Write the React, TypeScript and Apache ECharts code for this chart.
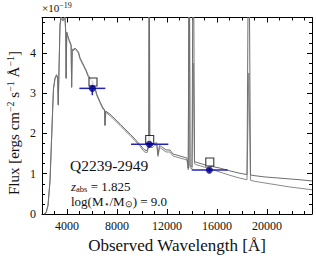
import React, { useEffect, useRef } from "react";
import * as echarts from "echarts";

const FONT = "Liberation Serif";

const wave = [
  2160, 2320, 2480, 2640, 2780, 2880, 2920, 3040, 3160, 3250, 3300, 3360, 3440, 3520, 3680, 3840,
  3900, 3930, 3980, 4120, 4240, 4330, 4370, 4420, 4480, 4640, 4800, 4920, 5040, 5200, 5360, 5520,
  5680, 5840, 6080, 6240, 6400, 6640, 6880, 7000, 7040, 7100, 7200, 7440, 7840, 8240, 8640, 9040,
  9440, 9840, 10160, 10400, 10540, 10580, 10620, 10800, 11000, 11176, 11280, 11400, 11576, 11920,
  12240, 12480, 13040, 13600, 13700, 13780, 13840, 14000, 14100, 14200, 14400, 15040, 15440, 16240,
  17040, 17840, 18400, 18540, 18680, 19040, 19840, 20240, 20640, 21440, 21840, 22640, 23600,
];
const fluxUpper = [
  0, 0.03, 0.22, 0.84, 2.0, 2.83, 3.13, 3.38, 3.46, 3.4, 2.72, 3.6, 4.7, 4.9, 4.82, 4.9,
  4.5, 3.38, 4.52, 4.37, 4.27, 4.2, 3.16, 4.1, 4.08, 4.12, 4.07, 4.02, 3.88, 3.78, 3.68, 3.58,
  3.45, 3.38, 3.28, 3.13, 2.96, 2.79, 2.63, 2.6, 2.21, 2.56, 2.53, 2.48, 2.36, 2.24, 2.11, 1.99,
  1.86, 1.72, 1.6, 1.57, 1.72, 8, 1.74, 1.69, 1.75, 1.77, 1.47, 1.7, 1.67, 1.59,
  1.59, 1.49, 1.44, 1.39, 1.14, 8, 1.2, 1.17, 8, 1.3, 1.28, 1.22, 1.19, 1.14,
  1.07, 1.01, 0.98, 8, 0.97, 0.95, 0.92, 0.91, 0.9, 0.88, 0.87, 0.85, 0.82,
];
const fluxLower = [
  0, 0.02, 0.2, 0.8, 1.96, 2.8, 3.1, 3.35, 3.43, 3.37, 2.7, 3.57, 4.66, 4.86, 4.79, 4.87,
  4.47, 3.36, 4.49, 4.34, 4.24, 4.17, 3.14, 4.07, 4.05, 4.09, 4.04, 3.99, 3.85, 3.75, 3.65, 3.55,
  3.42, 3.35, 3.25, 3.1, 2.93, 2.76, 2.6, 2.57, 2.19, 2.53, 2.5, 2.44, 2.32, 2.2, 2.07, 1.95,
  1.82, 1.68, 1.55, 1.52, 1.67, 8, 1.69, 1.64, 1.7, 1.72, 1.43, 1.65, 1.62, 1.54,
  1.54, 1.44, 1.39, 1.34, 1.1, 8, 1.15, 1.12, 3.75, 1.25, 1.22, 1.16, 1.12, 1.04,
  0.96, 0.89, 0.85, 3.5, 0.84, 0.81, 0.77, 0.75, 0.73, 0.69, 0.67, 0.64, 0.6,
];

// photometry: wavelength, flux, x-lo, x-hi, y-lo, y-hi
const photWave = [6024, 10587, 15387];
const photFlux = [3.12, 1.73, 1.09];
const photWaveLo = [4987, 9120, 13973];
const photWaveHi = [7067, 12107, 16853];
const photFluxLo = [2.95, 1.65, 1.04];
const photFluxHi = [3.29, 1.81, 1.14];

const modelWave = [6080, 10616, 15424];
const modelFlux = [3.28, 1.85, 1.29];

const xMajorTicks = [4000, 8000, 12000, 16000, 20000];
const xMinorTicks = [
  2000, 3000, 4000, 5000, 6000, 7000, 8000, 9000, 10000, 11000, 12000, 13000, 14000, 15000, 16000,
  17000, 18000, 19000, 20000, 21000, 22000, 23000,
];
const yMajorTicks = [0, 1, 2, 3, 4];
const yMinorTicks = [
  0.25, 0.5, 0.75, 1.25, 1.5, 1.75, 2.25, 2.5, 2.75, 3.25, 3.5, 3.75, 4.25, 4.5, 4.75,
];

const X_MIN = 2000;
const X_MAX = 23600;
const Y_MIN = 0;
const Y_MAX = 4.88;

const INK = "#111";

export default function App() {
  const ref = useRef<HTMLDivElement>(null);

  useEffect(() => {
    if (!ref.current) return;
    const chart = echarts.init(ref.current, undefined, { renderer: "svg" });

    const lab = (ticks: number[]) => ({
      show: true,
      customValues: ticks,
      formatter: (v: number) => `{t|${v}}`,
      fontFamily: FONT,
      fontSize: 12,
      color: INK,
      margin: 6,
      rich: { t: { fontFamily: FONT, fontSize: 12, color: INK } },
    });
    const mkX = (pos: string, ticks: number[], len: number, labels: boolean, line: boolean, extra: any = {}) => ({
      type: "value",
      position: pos,
      min: X_MIN,
      max: X_MAX,
      axisLine: { show: line, onZero: false, lineStyle: { color: "#000", width: 1 } },
      axisTick: { show: true, inside: true, length: len, customValues: ticks, lineStyle: { color: "#000", width: 1 } },
      axisLabel: labels ? lab(ticks) : { show: false },
      splitLine: { show: false },
      ...extra,
    });
    const mkY = (pos: string, ticks: number[], len: number, labels: boolean, line: boolean) => ({
      type: "value",
      position: pos,
      min: Y_MIN,
      max: Y_MAX,
      axisLine: { show: line, onZero: false, lineStyle: { color: "#000", width: 1 } },
      axisTick: { show: true, inside: true, length: len, customValues: ticks, lineStyle: { color: "#000", width: 1 } },
      axisLabel: labels ? lab(ticks) : { show: false },
      splitLine: { show: false },
    });

    const upper = wave.map((w, i) => [w, fluxUpper[i]]);
    const lower = wave.map((w, i) => [w, fluxLower[i]]);
    const phot = photWave.map((w, i) => [w, photFlux[i], photWaveLo[i], photWaveHi[i], photFluxLo[i], photFluxHi[i]]);
    const model = modelWave.map((w, i) => [w, modelFlux[i]]);

    chart.setOption({
      animation: false,
      textStyle: { fontFamily: FONT },
      grid: { left: 42, right: 4, top: 17.5, bottom: 47 },
      xAxis: [
        mkX("bottom", xMajorTicks, 5, true, true, {
          name: "{t|Observed Wavelength [Å]}",
          nameLocation: "middle",
          nameGap: 22,
          nameTextStyle: {
            fontFamily: FONT,
            fontSize: 17,
            color: INK,
            rich: { t: { fontFamily: FONT, fontSize: 17, color: INK } },
          },
        }),
        mkX("bottom", xMinorTicks, 3, false, false),
        mkX("top", xMajorTicks, 5, false, true),
        mkX("top", xMinorTicks, 3, false, false),
      ],
      yAxis: [
        mkY("left", yMajorTicks, 5, true, true),
        mkY("left", yMinorTicks, 3, false, false),
        mkY("right", yMajorTicks, 5, false, true),
        mkY("right", yMinorTicks, 3, false, false),
      ],
      graphic: [
        {
          type: "text",
          x: 14,
          y: 123,
          rotation: Math.PI / 2,
          style: {
            text: "{n|Flux [ergs cm}{s|−2}{n| s}{s|−1}{n| Å}{s|−1}{n|]}",
            align: "center",
            verticalAlign: "middle",
            fill: INK,
            fontFamily: FONT,
            rich: {
              n: { fontFamily: FONT, fontSize: 15, lineHeight: 18, fill: INK },
              s: { fontFamily: FONT, fontSize: 10, lineHeight: 10, verticalAlign: "top", fill: INK },
            },
          },
        },
        {
          type: "text",
          x: 42,
          y: 8,
          style: {
            text: "{n|×10}{s|−19}",
            align: "left",
            verticalAlign: "middle",
            fill: INK,
            fontFamily: FONT,
            rich: {
              n: { fontFamily: FONT, fontSize: 11, lineHeight: 14, fill: INK },
              s: { fontFamily: FONT, fontSize: 8, lineHeight: 8, verticalAlign: "top", fill: INK },
            },
          },
        },
        {
          type: "text",
          x: 70,
          y: 165,
          style: {
            text: "{q|Q2239-2949}",
            align: "left",
            verticalAlign: "middle",
            fill: INK,
            fontFamily: FONT,
            rich: { q: { fontFamily: FONT, fontSize: 15.5, lineHeight: 18, fill: INK } },
          },
        },
        {
          type: "text",
          x: 71,
          y: 186,
          style: {
            text: "{i|z}{b|abs}{n| = 1.825}",
            align: "left",
            verticalAlign: "middle",
            fill: INK,
            fontFamily: FONT,
            rich: {
              i: { fontFamily: FONT, fontSize: 13, fontStyle: "italic", lineHeight: 15, fill: INK },
              n: { fontFamily: FONT, fontSize: 13, lineHeight: 15, fill: INK },
              b: { fontFamily: FONT, fontSize: 8.5, lineHeight: 9, verticalAlign: "bottom", fill: INK },
            },
          },
        },
        {
          type: "text",
          x: 71,
          y: 201,
          style: {
            text: "{n|log(M}{b|⋆}{n|/M}{b|⊙}{n|) = 9.0}",
            align: "left",
            verticalAlign: "middle",
            fill: INK,
            fontFamily: FONT,
            rich: {
              n: { fontFamily: FONT, fontSize: 13, lineHeight: 15, fill: INK },
              b: { fontFamily: FONT, fontSize: 9, lineHeight: 9, verticalAlign: "bottom", fill: INK },
            },
          },
        },
      ],
      series: [
        {
          type: "line",
          data: lower,
          showSymbol: false,
          symbol: "none",
          clip: true,
          lineStyle: { color: "#8a8a8a", width: 1 },
          z: 2,
        },
        {
          type: "line",
          data: upper,
          showSymbol: false,
          symbol: "none",
          clip: true,
          lineStyle: { color: "#6e6e6e", width: 1 },
          z: 2,
        },
        {
          type: "custom",
          data: phot,
          encode: { x: 0, y: 1 },
          z: 3,
          renderItem: (params: any, api: any) => {
            const x = api.value(0);
            const y = api.value(1);
            const l = api.coord([api.value(2), y]);
            const r = api.coord([api.value(3), y]);
            const b = api.coord([x, api.value(4)]);
            const t = api.coord([x, api.value(5)]);
            const st = { stroke: "#2424b4", lineWidth: 1.5 };
            return {
              type: "group",
              children: [
                { type: "line", shape: { x1: l[0], y1: l[1], x2: r[0], y2: r[1] }, style: st },
                { type: "line", shape: { x1: b[0], y1: b[1], x2: t[0], y2: t[1] }, style: st },
              ],
            };
          },
        },
        {
          type: "scatter",
          data: model,
          symbol: "rect",
          symbolSize: 8,
          itemStyle: { color: "#ffffff", borderColor: "#000", borderWidth: 1.1 },
          z: 4,
        },
        {
          type: "scatter",
          data: phot.map((p) => [p[0], p[1]]),
          symbol: "circle",
          symbolSize: 7,
          itemStyle: { color: "#00008b" },
          z: 5,
        },
      ],
    });

    return () => chart.dispose();
  }, []);

  return <div ref={ref} style={{ width: 316, height: 261, position: "absolute", left: 0, top: 0 }} />;
}
